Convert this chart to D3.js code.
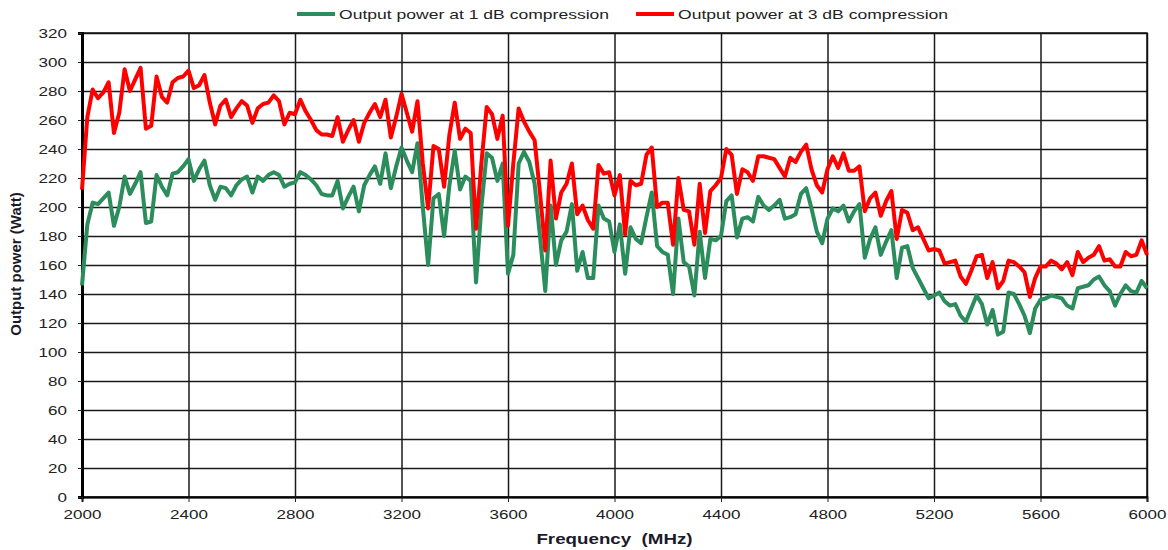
<!DOCTYPE html>
<html>
<head>
<meta charset="utf-8">
<script src="https://cdn.jsdelivr.net/npm/d3@7"></script>
<style>
  body { margin: 0; background: #fff; }
  svg { display: block; font-family: "Liberation Sans", Arial, sans-serif; }
  .grid line { stroke: #1a1a1a; stroke-width: 1.5; }
  .grid .domain { display: none; }
  .axis text { font-size: 13px; fill: #222; }
  .axis line { stroke: #222; }
  .axis .domain { stroke: #000; }
  .series { fill: none; stroke-width: 4; stroke-linejoin: round; }
</style>
</head>
<body>
<svg width="1168" height="550"></svg>
<script>
// sweep 2000..6000 MHz, one reading every 20 MHz
const freqStart = 2000;
const freqStep = 20;

const xTicks = [2000, 2400, 2800, 3200, 3600, 4000, 4400, 4800, 5200, 5600, 6000];
const yTicks = [0, 20, 40, 60, 80, 100, 120, 140, 160, 180, 200, 220, 240, 260, 280, 300, 320];

// output power at 1 dB compression (W)
const p1dB = [
  146, 188, 203, 202, 206, 210, 187, 200, 221, 209, 216, 224, 189, 190, 222, 214, 208, 223, 224, 228,
  233, 218, 226, 232, 215, 205, 214, 213, 208, 215, 219, 221, 210, 221, 218, 222, 224, 222, 214, 216,
  217, 224, 222, 219, 215, 209, 208, 208, 218, 199, 207, 214, 197, 215, 222, 228, 216, 237, 213, 228,
  241, 232, 224, 244, 200, 160, 206, 209, 180, 215, 239, 212, 221, 218, 148, 200, 237, 234, 218, 230,
  154, 167, 230, 238, 231, 216, 180, 142, 201, 160, 177, 183, 202, 156, 169, 151, 151, 201, 192, 190,
  169, 188, 154, 186, 178, 175, 193, 210, 173, 169, 167, 140, 192, 162, 159, 139, 183, 151, 178, 177,
  180, 204, 208, 179, 192, 193, 190, 207, 201, 198, 201, 205, 192, 193, 195, 209, 213, 199, 183, 175,
  192, 199, 197, 201, 190, 197, 202, 165, 178, 186, 167, 176, 184, 151, 172, 173, 158, 151, 144, 137,
  139, 141, 135, 132, 133, 125, 121, 130, 139, 133, 119, 129, 112, 114, 141, 140, 133, 125, 113, 130,
  136, 137, 139, 138, 137, 132, 130, 144, 145, 146, 150, 152, 146, 142, 132, 140, 146, 142, 141, 149,
  144
];

// output power at 3 dB compression (W)
const p3dB = [
  212, 262, 281, 275, 279, 286, 251, 265, 295, 280, 288, 296, 254, 256, 290, 276, 272, 286, 289, 290,
  294, 282, 284, 291, 272, 257, 270, 274, 262, 268, 273, 270, 258, 268, 271, 272, 277, 273, 257, 265,
  264, 274, 266, 260, 253, 250, 250, 249, 262, 245, 253, 260, 245, 258, 265, 271, 262, 274, 248, 262,
  278, 265, 252, 273, 230, 199, 242, 240, 214, 250, 272, 247, 254, 251, 185, 230, 269, 264, 247, 263,
  187, 230, 268, 259, 252, 246, 210, 170, 232, 192, 210, 216, 230, 195, 201, 191, 185, 229, 223, 224,
  208, 222, 181, 218, 215, 216, 236, 241, 200, 203, 203, 174, 220, 198, 197, 174, 216, 182, 211, 215,
  220, 240, 236, 209, 226, 224, 218, 235, 235, 234, 233, 227, 221, 234, 231, 238, 243, 226, 215, 210,
  226, 235, 227, 237, 225, 225, 228, 197, 206, 210, 194, 204, 211, 178, 198, 196, 184, 186, 178, 170,
  171, 170, 161, 162, 163, 152, 147, 156, 166, 167, 151, 162, 144, 149, 163, 162, 159, 155, 138, 151,
  159, 159, 163, 161, 157, 162, 153, 169, 162, 165, 167, 173, 163, 164, 159, 159, 169, 166, 167, 177,
  167
];

const seriesNames = ["Output power at 1 dB compression", "Output power at 3 dB compression"];
const seriesColors = ["#2b8c5c", "#ff0000"];

// the source picture is stretched sideways, so text is widened to match
const stretch = "scale(1.31,1)";

const svg = d3.select("svg");
const margin = { left: 82, right: 21, top: 33, bottom: 53 };
const width = 1168 - margin.left - margin.right;
const height = 550 - margin.top - margin.bottom;

const x = d3.scaleLinear().domain([2000, 6000]).range([0, width]);
const y = d3.scaleLinear().domain([0, 320]).range([height, 0]);

const g = svg.append("g").attr("transform", `translate(${margin.left},${margin.top})`);

// grid
g.append("g")
  .attr("class", "grid")
  .call(d3.axisLeft(y).tickValues(yTicks).tickSize(-width).tickFormat(""));
g.append("g")
  .attr("class", "grid")
  .attr("transform", `translate(0,${height})`)
  .call(d3.axisBottom(x).tickValues(xTicks).tickSize(height).tickFormat(""))
  .selectAll("line")
  .attr("y2", -height);

// plot frame
g.append("rect")
  .attr("width", width)
  .attr("height", height)
  .attr("fill", "none")
  .attr("stroke", "#111")
  .attr("stroke-width", 1.5);

// axes
g.append("g")
  .attr("class", "axis")
  .call(d3.axisLeft(y).tickValues(yTicks).tickSize(4).tickPadding(7.5))
  .call((a) => a.select(".domain").attr("stroke-width", 3))
  .call((a) => a.selectAll("text").attr("transform", stretch));
g.append("g")
  .attr("class", "axis")
  .attr("transform", `translate(0,${height})`)
  .call(d3.axisBottom(x).tickValues(xTicks).tickSize(5).tickPadding(8).tickFormat(d3.format("d")))
  .call((a) => a.select(".domain").attr("stroke-width", 2))
  .call((a) => a.selectAll("text").attr("transform", stretch));

// lines
const line = d3.line()
  .x((d, i) => x(freqStart + i * freqStep))
  .y((d) => y(d));

[p1dB, p3dB].forEach((vals, k) => {
  g.append("path")
    .datum(vals)
    .attr("class", "series")
    .attr("stroke", seriesColors[k])
    .attr("d", line);
});

// axis titles
svg.append("g")
  .attr("transform", `translate(${margin.left + width / 2},544)`)
  .append("text")
  .attr("transform", "scale(1.25,1)")
  .attr("text-anchor", "middle")
  .attr("font-size", 15)
  .attr("font-weight", "bold")
  .attr("fill", "#1a1a2a")
  .attr("xml:space", "preserve")
  .text("Frequency  (MHz)");

svg.append("text")
  .attr("transform", `translate(21,${margin.top + height / 2 - 1}) rotate(-90)`)
  .attr("text-anchor", "middle")
  .attr("font-size", 15)
  .attr("font-weight", "bold")
  .attr("font-family", "'Liberation Sans Narrow', 'Liberation Sans', Arial, sans-serif")
  .attr("fill", "#1a1a2a")
  .text("Output power (Watt)");

// legend
const legendX = [297, 636];
const legend = svg.append("g").attr("class", "legend");
seriesNames.forEach((name, k) => {
  legend.append("line")
    .attr("x1", legendX[k]).attr("x2", legendX[k] + 38)
    .attr("y1", 14).attr("y2", 14)
    .attr("stroke", seriesColors[k])
    .attr("stroke-width", 4);
  legend.append("g")
    .attr("transform", `translate(${legendX[k] + 42},19)`)
    .append("text")
    .attr("transform", "scale(1.35,1)")
    .attr("font-size", 13)
    .attr("fill", "#222")
    .text(name);
});
</script>
</body>
</html>
